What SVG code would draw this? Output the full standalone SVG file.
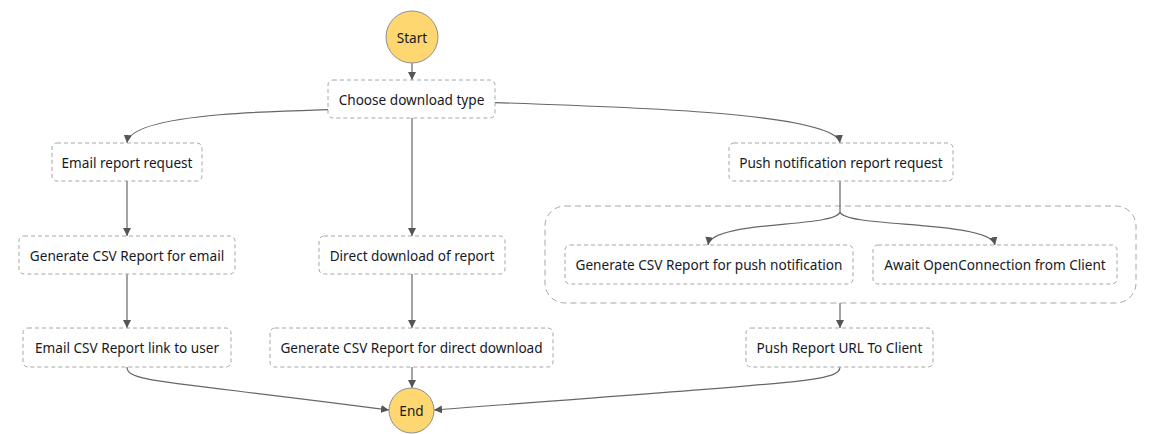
<svg xmlns="http://www.w3.org/2000/svg" width="1151" height="434" viewBox="0 0 1151 434">
<style>
.bg{fill:#fff}
.box rect{fill:#fff;stroke:#a6a6a6;stroke-width:1;stroke-dasharray:4 3}
.term circle{fill:#fed770;stroke:#8f8f8f;stroke-width:1}
text{font-family:"Noto Sans","Open Sans","DejaVu Sans",sans-serif;font-size:13.6px;fill:#16191f;text-anchor:middle;dominant-baseline:central}
.edges path{fill:none;stroke:#666;stroke-width:1.2}
.container{fill:none;stroke:#a6a6a6;stroke-width:1;stroke-dasharray:6 4}
</style>
<defs>
<marker id="arr" viewBox="0 0 10 10" refX="10" refY="5" markerWidth="8" markerHeight="8" markerUnits="userSpaceOnUse" orient="auto">
<path d="M0,0 L10,5 L0,10 z" fill="#555"/>
</marker>
</defs>
<rect class="bg" x="0" y="0" width="1151" height="434"/>
<rect class="container" x="545" y="206" width="591" height="97" rx="20"/>
<g class="edges">
<path d="M412,63 L412,80" marker-end="url(#arr)"/>
<path d="M412,108 C280,110 130,112 127,143" marker-end="url(#arr)"/>
<path d="M412,100 C620,106 836,112 840,143" marker-end="url(#arr)"/>
<path d="M412,118 L412,236" marker-end="url(#arr)"/>
<path d="M127,181 L127,236" marker-end="url(#arr)"/>
<path d="M127,274 L127,328" marker-end="url(#arr)"/>
<path d="M127,367 C127,382 160,380 389,410" marker-end="url(#arr)"/>
<path d="M412,274 L412,328" marker-end="url(#arr)"/>
<path d="M412,367 L412,388" marker-end="url(#arr)"/>
<path d="M840,181 L840,212 C836,228 712,220 708,245" marker-end="url(#arr)"/>
<path d="M840,212 C844,228 990,220 995,245" marker-end="url(#arr)"/>
<path d="M840,303 L840,328" marker-end="url(#arr)"/>
<path d="M840,367 C840,382 800,382 434,410" marker-end="url(#arr)"/>
</g>
<g id="start" class="term"><circle cx="412" cy="37" r="26"/><text x="412" y="37">Start</text></g>
<g id="choose" class="box"><rect x="328" y="80" width="167" height="38" rx="5"/><text x="411.5" y="99">Choose download type</text></g>
<g id="email-req" class="box"><rect x="52" y="143" width="150" height="38" rx="5"/><text x="127" y="162">Email report request</text></g>
<g id="push-req" class="box"><rect x="729" y="143" width="224" height="38" rx="5"/><text x="841" y="162">Push notification report request</text></g>
<g id="gen-email" class="box"><rect x="19" y="236" width="216" height="38" rx="5"/><text x="127" y="255">Generate CSV Report for email</text></g>
<g id="direct" class="box"><rect x="319" y="236" width="186" height="38" rx="5"/><text x="412" y="255">Direct download of report</text></g>
<g id="gen-push" class="box"><rect x="565" y="245" width="288" height="39" rx="5"/><text x="709" y="264.5">Generate CSV Report for push notification</text></g>
<g id="await" class="box"><rect x="873" y="245" width="244" height="39" rx="5"/><text x="995" y="264.5">Await OpenConnection from Client</text></g>
<g id="email-link" class="box"><rect x="23" y="328" width="208" height="39" rx="5"/><text x="127" y="347.5">Email CSV Report link to user</text></g>
<g id="gen-direct" class="box"><rect x="270" y="328" width="283" height="39" rx="5"/><text x="411.5" y="347.5">Generate CSV Report for direct download</text></g>
<g id="push-url" class="box"><rect x="746" y="328" width="187" height="39" rx="5"/><text x="839.5" y="347.5">Push Report URL To Client</text></g>
<g id="end" class="term"><circle cx="411.5" cy="410.5" r="22.5"/><text x="411.5" y="410.5">End</text></g>
</svg>
